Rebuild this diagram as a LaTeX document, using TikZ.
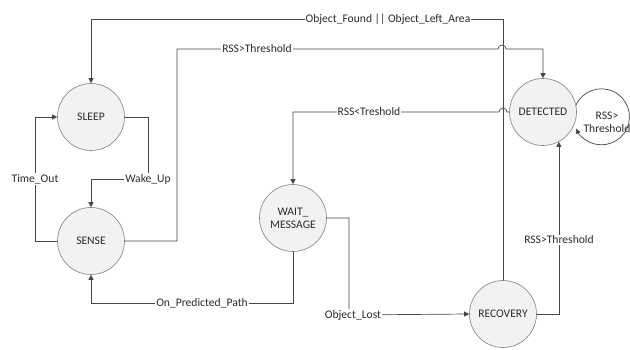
\documentclass[tikz,border=0pt]{standalone}
\usepackage{fontspec}
\setmainfont{Carlito}
\usetikzlibrary{arrows.meta}
\definecolor{linegray}{HTML}{474747}
\definecolor{textgray}{HTML}{2B2B2B}
\begin{document}
\begin{tikzpicture}[x=1pt,y=-1pt,
		font=\fontsize{11.6}{13}\selectfont, text=textgray,
		state/.style={circle, draw=gray, line width=0.6pt, fill=gray!10, minimum size=67pt, inner sep=0pt, align=center},
		trans/.style={draw=linegray, line width=0.7pt, -{Triangle[length=5pt,width=5pt]}},
		lbl/.style={fill=white, inner sep=1pt}]
	\useasboundingbox (0,0) rectangle (630,350);
	% states
	\node (sleep) [state] at (91,117) {SLEEP};
	\node (sense) [state] at (91,241) {SENSE};
	\node (wait) [state] at (293,218) {WAIT\_\\MESSAGE};
	\node (detected) [state] at (543,112) {DETECTED};
	\node (recovery) [state] at (503,314) {RECOVERY};
	% transitions
	\draw [trans] (recovery.north) |- (91,19) -- (sleep.north);
	\node [lbl] at (388,19) {Object\_Found || Object\_Left\_Area};
	\draw [trans] (sense.east) -| (177,49) -- (498,49) arc[start angle=180, end angle=0, radius=4pt] -| (detected.north);
	\node [lbl] at (257,49) {RSS>Threshold};
	\draw [trans] (detected.west) -- (507,112) arc[start angle=0, end angle=180, radius=4pt] -| (wait.north);
	\node [lbl] at (369,112) {RSS<Treshold};
	\draw [trans] (sleep.east) -| (148,179) -| (sense.north);
	\node [lbl] at (148,179) {Wake\_Up};
	\draw [trans] (sense.west) -| (35,117) -- (sleep.west);
	\node [lbl] at (35,179) {Time\_Out};
	\draw [trans] (wait.south) |- (91,303) -- (sense.south);
	\node [lbl] at (202,303) {On\_Predicted\_Path};
	\draw [trans] (wait.east) -| (349,315) -- (recovery.west);
	\node [lbl] at (353,315) {Object\_Lost};
	\draw [trans] (recovery.east) -| (detected.-62);
	\node [lbl] at (559,240) {RSS>Threshold};
	\draw [trans] (detected.12) arc[start angle=155, end angle=-155, radius=28pt];
	\node [align=center] at (607,122) {RSS>\\Threshold};
\end{tikzpicture}
\end{document}
